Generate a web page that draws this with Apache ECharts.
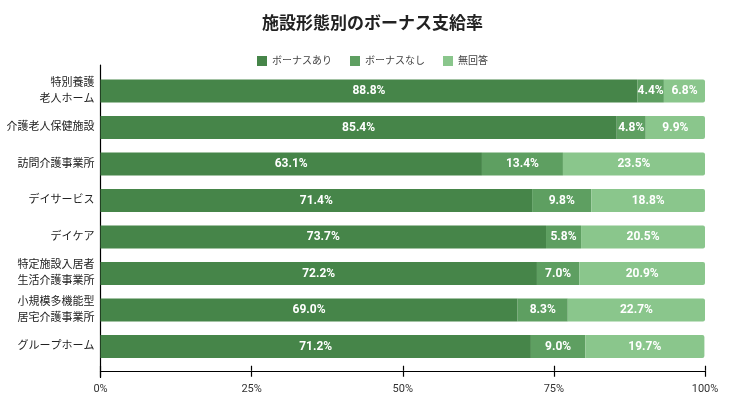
<!DOCTYPE html>
<html>
<head>
<meta charset="utf-8">
<script src="https://cdn.jsdelivr.net/npm/echarts@6/dist/echarts.min.js"></script>
<style>
  html, body { margin: 0; padding: 0; background: #fff; }
  #main { width: 745px; height: 401px; }
</style>
</head>
<body>
<div id="main"></div>
<script>
// 施設形態別のボーナス支給率 (%)
const categories = [
  '特別養護\n老人ホーム',
  '介護老人保健施設',
  '訪問介護事業所',
  'デイサービス',
  'デイケア',
  '特定施設入居者\n生活介護事業所',
  '小規模多機能型\n居宅介護事業所',
  'グループホーム'
];
const bonusYes = [88.8, 85.4, 63.1, 71.4, 73.7, 72.2, 69.0, 71.2];
const bonusNo = [4.4, 4.8, 13.4, 9.8, 5.8, 7.0, 8.3, 9.0];
const noAnswer = [6.8, 9.9, 23.5, 18.8, 20.5, 20.9, 22.7, 19.7];

const colors = ['#468549', '#5e9f61', '#8ac68c'];
const font = 'Roboto, "Noto Sans CJK JP", sans-serif';

const chart = echarts.init(document.getElementById('main'));

function seg(name, data, color, last) {
  return {
    name: name,
    type: 'bar',
    stack: 'total',
    data: data,
    barWidth: 23,
    xAxisIndex: 0,
    yAxisIndex: 0,
    itemStyle: {
      color: color,
      borderRadius: last ? [0, 2, 2, 0] : 0
    },
    label: {
      show: true,
      position: 'inside',
      color: '#fff',
      fontWeight: 'bold',
      fontSize: 12,
      fontFamily: font,
      formatter: p => p.value.toFixed(1) + '%'
    }
  };
}

chart.setOption({
  animation: false,
  textStyle: { fontFamily: font },
  title: {
    text: '施設形態別のボーナス支給率',
    left: 'center',
    top: 11,
    textStyle: { fontSize: 17, fontWeight: 'bold', color: '#222', fontFamily: font }
  },
  legend: {
    top: 51,
    left: 'center',
    itemWidth: 10,
    itemHeight: 10,
    itemGap: 18,
    icon: 'rect',
    textStyle: { fontSize: 10, color: '#444', fontFamily: font },
    data: ['ボーナスあり', 'ボーナスなし', '無回答']
  },
  grid: [
    { left: 100.5, right: 40, top: 72.75, bottom: 36.25 },
    { left: 100.5, right: 40, top: 65, bottom: 23.5 }
  ],
  xAxis: [
    {
      type: 'value', gridIndex: 0, min: 0, max: 100, interval: 25,
      offset: 6,
      axisLine: { show: true, lineStyle: { color: '#000', width: 1.2 } },
      axisTick: { show: true, length: 6, lineStyle: { color: '#000', width: 1.2 } },
      splitLine: { show: false },
      axisLabel: { margin: 13, fontSize: 11, color: '#333', formatter: '{value}%' }
    },
    {
      type: 'value', gridIndex: 0, min: 0, max: 100, interval: 25,
      position: 'bottom',
      offset: 6,
      axisLine: { show: false },
      axisTick: { show: true, inside: true, length: 5, lineStyle: { color: '#000', width: 1.2 } },
      splitLine: { show: false },
      axisLabel: { show: false }
    },
    { type: 'value', gridIndex: 1, show: false }
  ],
  yAxis: [
    {
      type: 'category', gridIndex: 0, inverse: true, data: categories,
      axisLine: { show: false },
      axisTick: { show: false },
      axisLabel: { margin: 6, fontSize: 11, lineHeight: 16, color: '#222', fontFamily: font }
    },
    {
      type: 'value', gridIndex: 1,
      axisLine: { show: true, lineStyle: { color: '#000', width: 1.2 } },
      axisTick: { show: false },
      axisLabel: { show: false },
      splitLine: { show: false }
    }
  ],
  series: [
    seg('ボーナスあり', bonusYes, colors[0], false),
    seg('ボーナスなし', bonusNo, colors[1], false),
    seg('無回答', noAnswer, colors[2], true)
  ]
});
</script>
</body>
</html>
